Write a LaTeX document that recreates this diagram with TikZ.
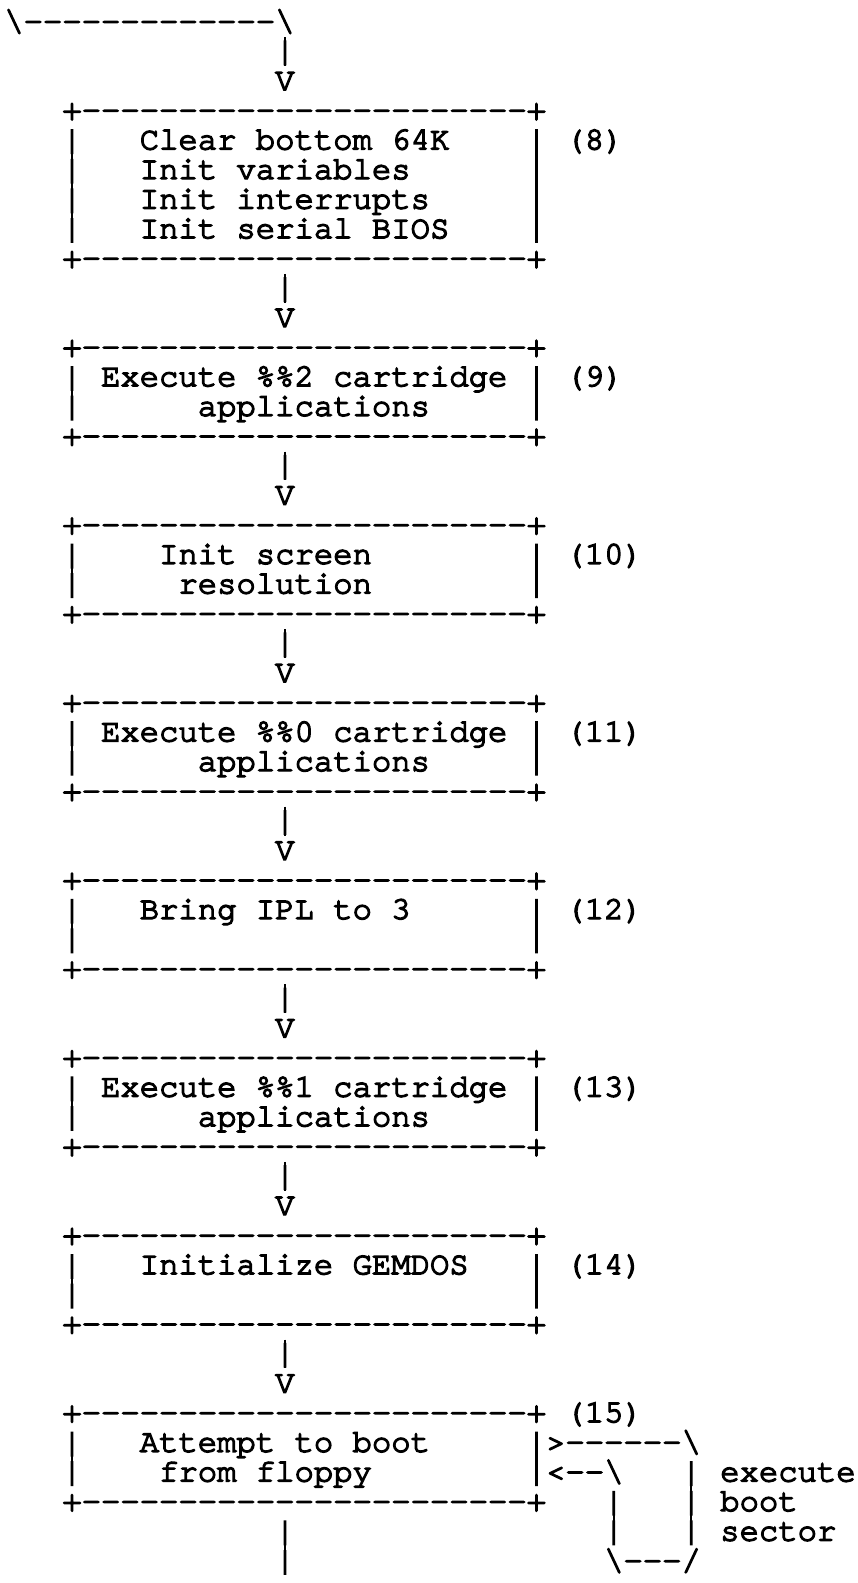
\documentclass[tikz,border=0pt]{standalone}
\usepackage{fontspec}
\setmonofont{texgyrecursor-regular.otf}[Ligatures={NoCommon}]
% medium weight: regular outlines filled and stroked
\newcommand\medium{\special{pdf:literal direct 2 Tr 0.42 w}}
\tikzset{
  asc/.style={anchor=base west, inner sep=0pt, outer sep=0pt, font=\ttfamily\fontsize{9.675pt}{10pt}\selectfont\medium},
  vline/.style={draw=black, line width=0.75pt},
  stem/.style={vline, shorten <=-1.2pt, shorten >=-0.4pt}
}
\newcommand\ascnode[4]{\node[asc] (#1) at ({4.3+#2*19.35},{31+#3*29.6}) {#4};}
\newcommand\boxedge{+-----------------------+}
\begin{document}
\begin{tikzpicture}[x=0.3pt,y=-0.3pt]
\useasboundingbox (0,0) rectangle (858,1583);
% top feed line
\ascnode{feed}{0}{0}{\textbackslash-------------\textbackslash}
% arrows between boxes
\foreach \a in {1,9,15,21,27,33,39,45} {
  \pgfmathtruncatemacro\v{\a+1}
  \ascnode{bar\a}{14}{\a}{|}
  \ascnode{arr\a}{14}{\v}{V}
  \draw[stem] (bar\a.north) -- (bar\a.south);
}
% boxes
\foreach \t/\b in {3/8,11/14,17/20,23/26,29/32,35/38,41/44,47/50} {
  \ascnode{top\t}{3}{\t}{\boxedge}
  \ascnode{bot\t}{3}{\b}{\boxedge}
  \pgfmathtruncatemacro\s{\t+1}
  \pgfmathtruncatemacro\e{\b-1}
  \foreach \r in {\s,...,\e} {
    \ascnode{L\r}{3}{\r}{|}
    \ascnode{R\r}{27}{\r}{|}
  }
  \draw[vline] (L\s.north) -- (L\e.south);
  \draw[vline] (R\s.north) -- (R\e.south);
}
% box texts
\ascnode{t4}{7}{4}{Clear bottom 64K}
\ascnode{t5}{7}{5}{Init variables}
\ascnode{t6}{7}{6}{Init interrupts}
\ascnode{t7}{7}{7}{Init serial BIOS}
\ascnode{n8}{29}{4}{(8)}
\ascnode{t12}{5}{12}{Execute \%\%2 cartridge}
\ascnode{t13}{10}{13}{applications}
\ascnode{n9}{29}{12}{(9)}
\ascnode{t18}{8}{18}{Init screen}
\ascnode{t19}{9}{19}{resolution}
\ascnode{n10}{29}{18}{(10)}
\ascnode{t24}{5}{24}{Execute \%\%0 cartridge}
\ascnode{t25}{10}{25}{applications}
\ascnode{n11}{29}{24}{(11)}
\ascnode{t30}{7}{30}{Bring IPL to 3}
\ascnode{n12}{29}{30}{(12)}
\ascnode{t36}{5}{36}{Execute \%\%1 cartridge}
\ascnode{t37}{10}{37}{applications}
\ascnode{n13}{29}{36}{(13)}
\ascnode{t42}{7}{42}{Initialize GEMDOS}
\ascnode{n14}{29}{42}{(14)}
\ascnode{n15}{29}{47}{(15)}
\ascnode{t48}{7}{48}{Attempt to boot}
\ascnode{t49}{8}{49}{from floppy}
% boot-sector loop
\ascnode{lp48}{28}{48}{>------\textbackslash}
\ascnode{lp49}{28}{49}{<--\textbackslash}
\ascnode{lr49}{35}{49}{|}
\ascnode{li50}{31}{50}{|}
\ascnode{lr50}{35}{50}{|}
\ascnode{li51}{31}{51}{|}
\ascnode{lr51}{35}{51}{|}
\ascnode{lb52}{31}{52}{\textbackslash---/}
\draw[vline] (lr49.north) -- (lr51.south);
\draw[vline] (li50.north) -- (li51.south);
\ascnode{x49}{37}{49}{execute}
\ascnode{x50}{37}{50}{boot}
\ascnode{x51}{37}{51}{sector}
% exit line
\ascnode{d51}{14}{51}{|}
\ascnode{d52}{14}{52}{|}
\draw[vline] (d51.north) -- (d52.south);
\end{tikzpicture}
\end{document}
